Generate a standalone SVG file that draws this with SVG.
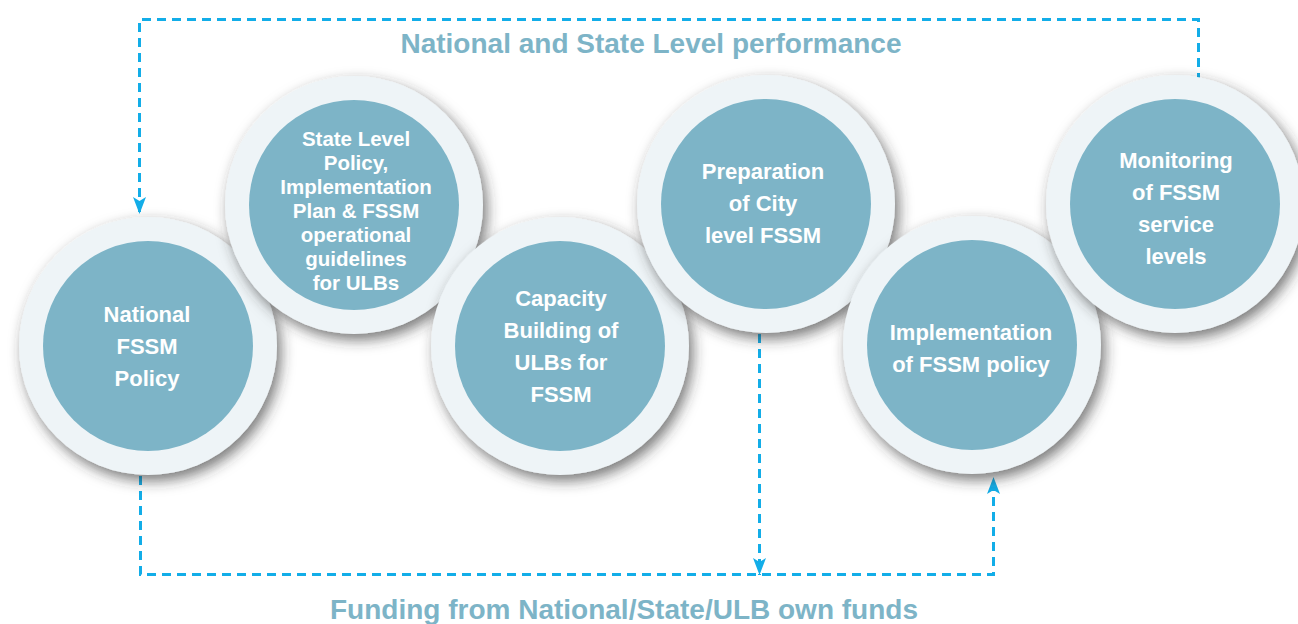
<svg xmlns="http://www.w3.org/2000/svg" width="1298" height="624" viewBox="0 0 1298 624">
<style>
.ring{fill:#eef4f7;filter:url(#sh)}
.core{fill:#7db4c7}
.lbl{font-family:"Liberation Sans",Arial,sans-serif;font-weight:bold;font-size:22px;fill:#ffffff;text-anchor:middle}
.sm{font-size:20.5px}
.cap{font-family:"Liberation Sans",Arial,sans-serif;font-weight:bold;font-size:28px;fill:#7db4c7;text-anchor:middle}
.dash{fill:none;stroke:#12ade8;stroke-width:3;stroke-dasharray:9 6}
</style>
<defs>
<filter id="sh" x="-20%" y="-20%" width="150%" height="150%">
<feDropShadow dx="4" dy="6" stdDeviation="7" flood-color="#333" flood-opacity="0.65"/>
</filter>
<marker id="ah" markerUnits="userSpaceOnUse" markerWidth="20" markerHeight="16" viewBox="0 -8 18 16" refX="17" refY="0" orient="auto">
<path d="M0,-6.5 L17,0 L0,6.5 L4,0 Z" fill="#12ade8"/>
</marker>
</defs>
<g id="connectors">
<path class="dash" d="M1198.5,97 V19.5 H139.5 V214" marker-end="url(#ah)"/>
<path class="dash" d="M140.5,476 V574.5 H993.5 V477" marker-end="url(#ah)"/>
<path class="dash" d="M759.5,334 V575" marker-end="url(#ah)"/>
</g>
<g id="n1">
<circle class="ring" cx="148" cy="346" r="129"/>
<circle class="core" cx="148" cy="346" r="105"/>
<text class="lbl" x="147" y="322">National</text>
<text class="lbl" x="147" y="354">FSSM</text>
<text class="lbl" x="147" y="386">Policy</text>
</g>
<g id="n2">
<circle class="ring" cx="354" cy="205" r="129"/>
<circle class="core" cx="354" cy="205" r="105"/>
<text class="lbl sm" x="356" y="146">State Level</text>
<text class="lbl sm" x="356" y="170">Policy,</text>
<text class="lbl sm" x="356" y="194">Implementation</text>
<text class="lbl sm" x="356" y="218">Plan &amp; FSSM</text>
<text class="lbl sm" x="356" y="242">operational</text>
<text class="lbl sm" x="356" y="266">guidelines</text>
<text class="lbl sm" x="356" y="290">for ULBs</text>
</g>
<g id="n3">
<circle class="ring" cx="560" cy="346" r="129"/>
<circle class="core" cx="560" cy="346" r="105"/>
<text class="lbl" x="561" y="306">Capacity</text>
<text class="lbl" x="561" y="338">Building of</text>
<text class="lbl" x="561" y="370">ULBs for</text>
<text class="lbl" x="561" y="402">FSSM</text>
</g>
<g id="n4">
<circle class="ring" cx="766" cy="204" r="129"/>
<circle class="core" cx="766" cy="204" r="105"/>
<text class="lbl" x="763" y="179">Preparation</text>
<text class="lbl" x="763" y="211">of City</text>
<text class="lbl" x="763" y="243">level FSSM</text>
</g>
<g id="n5">
<circle class="ring" cx="972" cy="345" r="129"/>
<circle class="core" cx="972" cy="345" r="105"/>
<text class="lbl" x="971" y="340">Implementation</text>
<text class="lbl" x="971" y="372">of FSSM policy</text>
</g>
<g id="n6">
<circle class="ring" cx="1175" cy="204" r="129"/>
<circle class="core" cx="1175" cy="204" r="105"/>
<text class="lbl" x="1176" y="168">Monitoring</text>
<text class="lbl" x="1176" y="200">of FSSM</text>
<text class="lbl" x="1176" y="232">service</text>
<text class="lbl" x="1176" y="264">levels</text>
</g>
<text class="cap" x="651" y="53">National and State Level performance</text>
<text class="cap" x="624" y="619">Funding from National/State/ULB own funds</text>
</svg>
